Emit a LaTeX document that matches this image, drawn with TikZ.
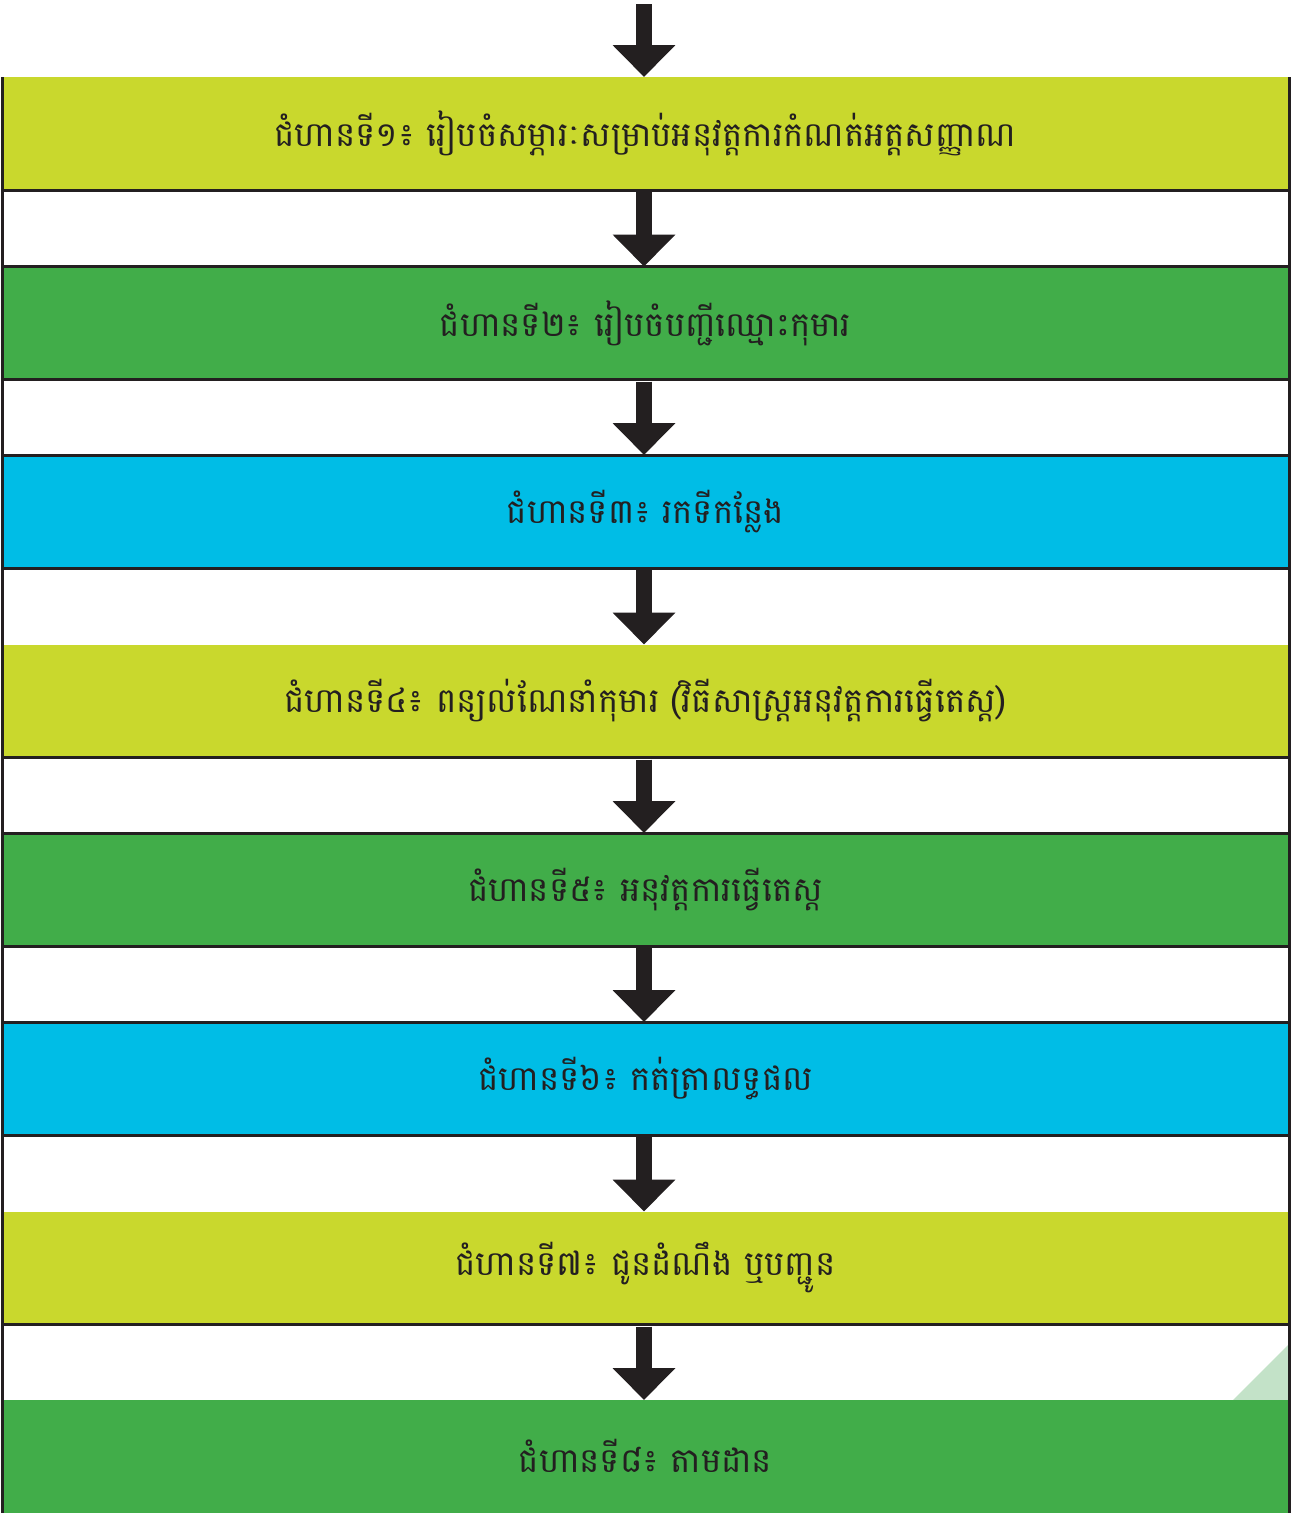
\documentclass[tikz,border=0pt]{standalone}
\usepackage{fontspec}
\newfontfamily\khmerfont[Script=Khmer]{Battambang}
\usetikzlibrary{arrows.meta}
\definecolor{limeband}{HTML}{C9D82D}
\definecolor{greenband}{HTML}{41AD49}
\definecolor{cyanband}{HTML}{00BDE6}
\definecolor{inkdark}{HTML}{231F20}
\definecolor{paleleaf}{HTML}{C3E2C8}
\tikzset{
  stepbox/.style={draw=none, minimum width=1285pt, minimum height=113pt,
    inner sep=0pt, outer sep=0pt, text=inkdark,
    font=\khmerfont\fontsize{34}{40}\selectfont},
  edgeline/.style={draw=inkdark, line width=3pt},
  flowarrow/.style={draw=inkdark, line width=16pt,
    -{Triangle[width=61pt,length=32pt]}},
}
\begin{document}
\begin{tikzpicture}[x=1pt,y=-1pt]
\useasboundingbox[fill=white] (0,0) rectangle (1292,1513);
% decorative pale triangle
\fill[paleleaf] (1233,1400) -- (1288,1345) -- (1288,1400) -- cycle;
\node[stepbox, fill=limeband]  (s1) at (645.5,133.5)  {\raisebox{1.5pt}{ជំហានទី១៖ រៀបចំសម្ភារៈសម្រាប់អនុវត្តការកំណត់អត្តសញ្ញាណ}};
\node[stepbox, fill=greenband] (s2) at (645.5,323)    {ជំហានទី២៖ រៀបចំបញ្ជីឈ្មោះកុមារ};
\node[stepbox, fill=cyanband]  (s3) at (645.5,511.5)  {ជំហានទី៣៖ រកទីកន្លែង};
\node[stepbox, fill=limeband]  (s4) at (645.5,701)    {ជំហានទី៤៖ ពន្យល់ណែនាំកុមារ (វិធីសាស្ត្រអនុវត្តការធ្វើតេស្ត)};
\node[stepbox, fill=greenband] (s5) at (645.5,889.5)  {ជំហានទី៥៖ អនុវត្តការធ្វើតេស្ត};
\node[stepbox, fill=cyanband]  (s6) at (645.5,1078.5) {ជំហានទី៦៖ កត់ត្រាលទ្ធផល};
\node[stepbox, fill=limeband]  (s7) at (645.5,1268)   {ជំហានទី៧៖ ជូនដំណឹង ឬបញ្ជូន};
\node[stepbox, fill=greenband] (s8) at (645.5,1456.5) {\raisebox{2pt}{ជំហានទី៨៖ តាមដាន}};
% dark rules
\foreach \b in {s1,s2,s3,s4,s5,s6,s7}{
  \draw[edgeline] (\b.south west) -- (\b.south east);
}
\foreach \b in {s2,s3,s5,s6}{
  \draw[edgeline] (\b.north west) -- (\b.north east);
}
\draw[edgeline] ([xshift=-1pt]s1.north west) -- ([xshift=-1pt]s8.south west);
\draw[edgeline] ([xshift=1pt]s1.north east) -- ([xshift=1pt]s8.south east);
% arrows
\coordinate (start) at (644,4);
\draw[flowarrow] (start) -- ([xshift=-1.5pt]s1.north);
\draw[flowarrow] ([xshift=-1.5pt,yshift=-2pt]s1.south) -- ([xshift=-1.5pt]s2.north);
\draw[flowarrow] ([xshift=-1.5pt,yshift=-2pt]s2.south) -- ([xshift=-1.5pt]s3.north);
\draw[flowarrow] ([xshift=-1.5pt,yshift=-2pt]s3.south) -- ([xshift=-1.5pt]s4.north);
\draw[flowarrow] ([xshift=-1.5pt,yshift=-2pt]s4.south) -- ([xshift=-1.5pt]s5.north);
\draw[flowarrow] ([xshift=-1.5pt,yshift=-2pt]s5.south) -- ([xshift=-1.5pt]s6.north);
\draw[flowarrow] ([xshift=-1.5pt,yshift=-2pt]s6.south) -- ([xshift=-1.5pt]s7.north);
\draw[flowarrow] ([xshift=-1.5pt,yshift=-2pt]s7.south) -- ([xshift=-1.5pt]s8.north);
\end{tikzpicture}
\end{document}
